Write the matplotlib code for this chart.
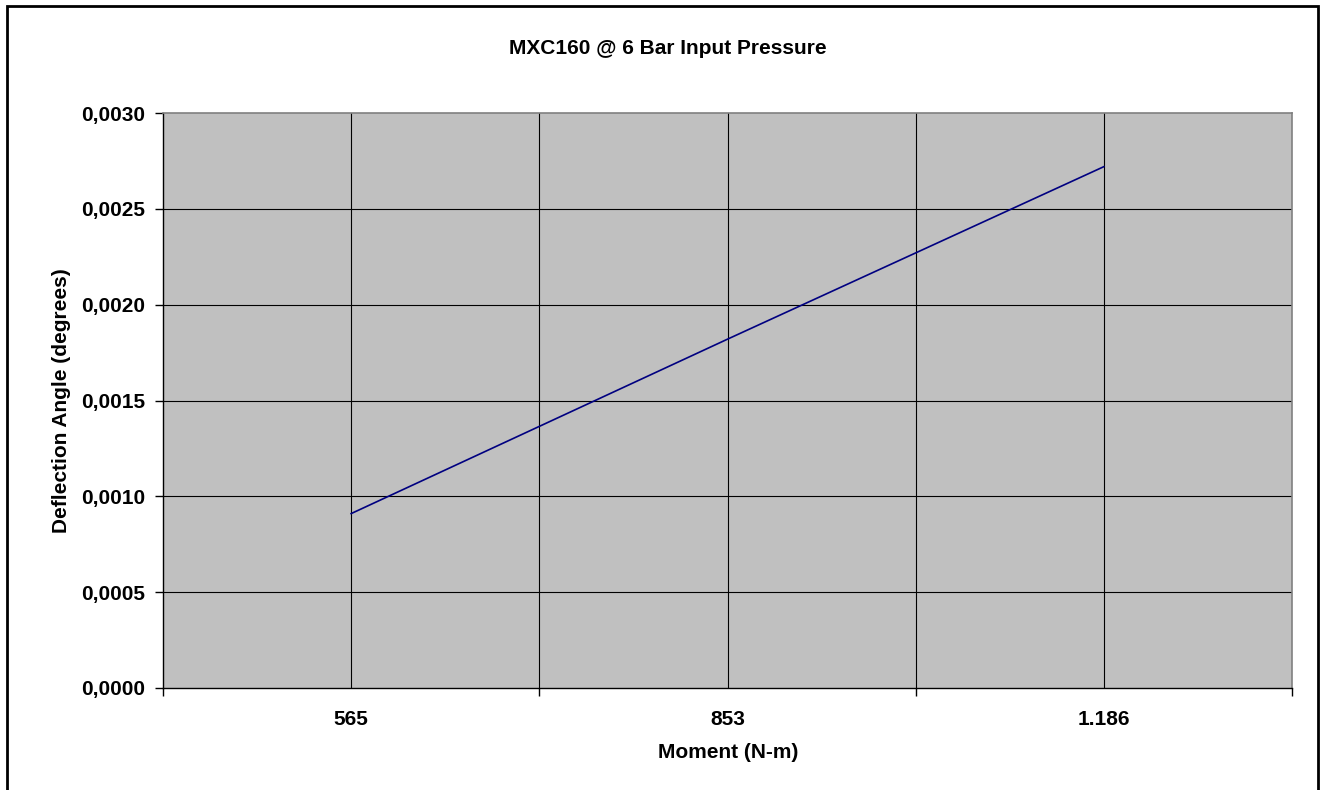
import matplotlib
matplotlib.use("Agg")
import matplotlib.pyplot as plt
from matplotlib.patches import Rectangle
from matplotlib.ticker import FuncFormatter

categories = ["565", "853", "1.186"]
deflection = [0.00091, 0.00182, 0.00272]
y_ticks = [0.0, 0.0005, 0.0010, 0.0015, 0.0020, 0.0025, 0.0030]

plt.rcParams['font.family'] = ['Liberation Sans', 'DejaVu Sans']
plt.rcParams['font.weight'] = 'bold'
FS = 15

W, H = 1328, 790
fig = plt.figure(figsize=(W/100, H/100), dpi=100)
fig.patches.append(Rectangle((7/W, -0.1), (1318-7)/W, 1.1 - 6/H, transform=fig.transFigure,
                             fill=False, edgecolor='black', linewidth=2))

left, right, top, bottom = 163, 1292, 113, 688
ax = fig.add_axes([left/W, 1-bottom/H, (right-left)/W, (bottom-top)/H])
ax.set_facecolor('#c0c0c0')

n = len(categories)
xpos = [2*i + 1 for i in range(n)]
ax.plot(xpos, deflection, color='#000080', linewidth=1.2, zorder=3)

ax.set_xlim(0, 2*n)
ax.set_ylim(0, 0.003)
ax.set_yticks(y_ticks)
ax.yaxis.set_major_formatter(FuncFormatter(lambda v, p: f"{v:.4f}".replace('.', ',')))
ax.set_xticks(xpos)
ax.set_xticklabels(categories)
ax.set_xticks([2*i for i in range(n+1)], minor=True)
ax.tick_params(axis='x', which='major', length=0, pad=15.5, labelsize=FS)
ax.tick_params(axis='x', which='minor', length=6, width=1, color='black')
ax.tick_params(axis='y', length=6, width=1, color='black', labelsize=FS, pad=7)

for y in y_ticks[1:-1]:
    ax.axhline(y, color='black', linewidth=0.8, zorder=1)
for x in range(1, 2*n):
    ax.axvline(x, color='black', linewidth=0.8, zorder=1)

for s in ['top', 'right']:
    ax.spines[s].set_color('#808080')
    ax.spines[s].set_linewidth(1.2)
for s in ['left', 'bottom']:
    ax.spines[s].set_color('black')
    ax.spines[s].set_linewidth(1)

ax.set_xlabel("Moment (N-m)", fontsize=FS, fontweight='bold', va='center')
ax.xaxis.set_label_coords((728-left)/(right-left), (bottom-753)/(bottom-top))
ax.set_ylabel("Deflection Angle (degrees)", fontsize=FS, fontweight='bold', va='center')
ax.yaxis.set_label_coords((62-left)/(right-left), 0.5)
fig.text((508+828)/2/W, 1-48/H, "MXC160 @ 6 Bar Input Pressure", ha='center', va='center',
         fontsize=FS, fontweight='bold')

fig.savefig("out.png", dpi=100)
